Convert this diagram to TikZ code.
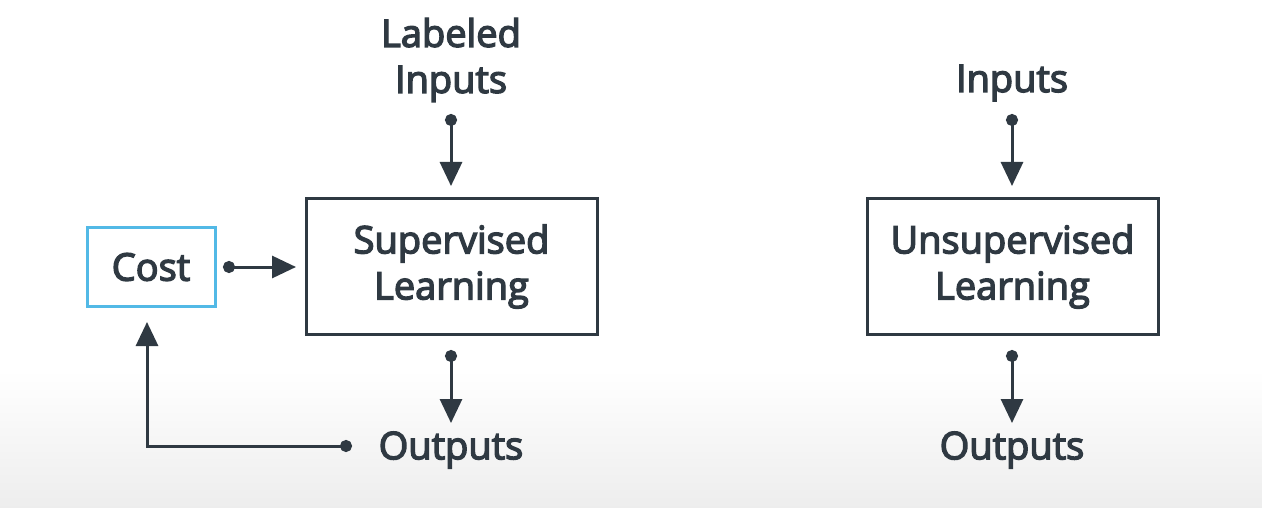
\documentclass[tikz,border=0pt]{standalone}
\usepackage{fontspec}
\setmainfont{Open Sans}
\newfontfamily\semi{Open Sans}[FakeBold=3.6]
\usetikzlibrary{arrows.meta,positioning}
\definecolor{ink}{HTML}{2F3942}
\definecolor{costblue}{HTML}{52B9E6}
\tikzset{
  lbl/.style={text=ink, font=\semi\fontsize{38}{46}\selectfont, align=center, inner sep=0pt},
  learnbox/.style={draw=ink, line width=3pt, minimum width=291pt, minimum height=135pt, inner sep=0pt, text=ink, font=\semi\fontsize{38}{46}\selectfont, align=center},
  costbox/.style={draw=costblue, line width=3pt, minimum width=128pt, minimum height=79pt, inner sep=0pt, text=ink, font=\semi\fontsize{38}{46}\selectfont},
  conn/.style={draw=ink, line width=3pt, {Circle[length=12pt]}-{Triangle[length=24pt,width=22pt]}, shorten <=-6pt}
}
\begin{document}
\begin{tikzpicture}[x=1pt,y=-1pt]
\useasboundingbox (0,0) rectangle (1262,508);
\fill[white] (0,0) rectangle (1262,508);
\shade[top color=white, bottom color=black!7] (0,370) rectangle (1262,508);
% supervised
\node[lbl] (li) at (451,60) {Labeled\\Inputs};
\node[learnbox] (sup) at (451.5,266.5) {Supervised\\Learning};
\node[costbox] (cost) at (151,267) {Cost};
\node[lbl] (so) at (451,450) {Outputs};
\coordinate (liA) at (451,120);
\coordinate (liB) at (451,186);
\coordinate (soA) at (451,356);
\coordinate (soB) at (451,423);
\coordinate (cA) at (229,267);
\coordinate (cB) at (296,267);
\coordinate (fA) at (346,446);
\coordinate (fC) at (147,446);
\coordinate (fB) at (147,322);
\draw[conn] (liA) -- (liB);
\draw[conn] (soA) -- (soB);
\draw[conn] (cA) -- (cB);
\draw[conn] (fA) -- (fC) -- (fB);
% unsupervised
\node[lbl] (ui) at (1012,83) {Inputs};
\node[learnbox] (uns) at (1012.5,266.5) {Unsupervised\\Learning};
\node[lbl] (uo) at (1012,450) {Outputs};
\coordinate (uiA) at (1012,120);
\coordinate (uiB) at (1012,186);
\coordinate (uoA) at (1012,356);
\coordinate (uoB) at (1012,423);
\draw[conn] (uiA) -- (uiB);
\draw[conn] (uoA) -- (uoB);
\end{tikzpicture}
\end{document}
